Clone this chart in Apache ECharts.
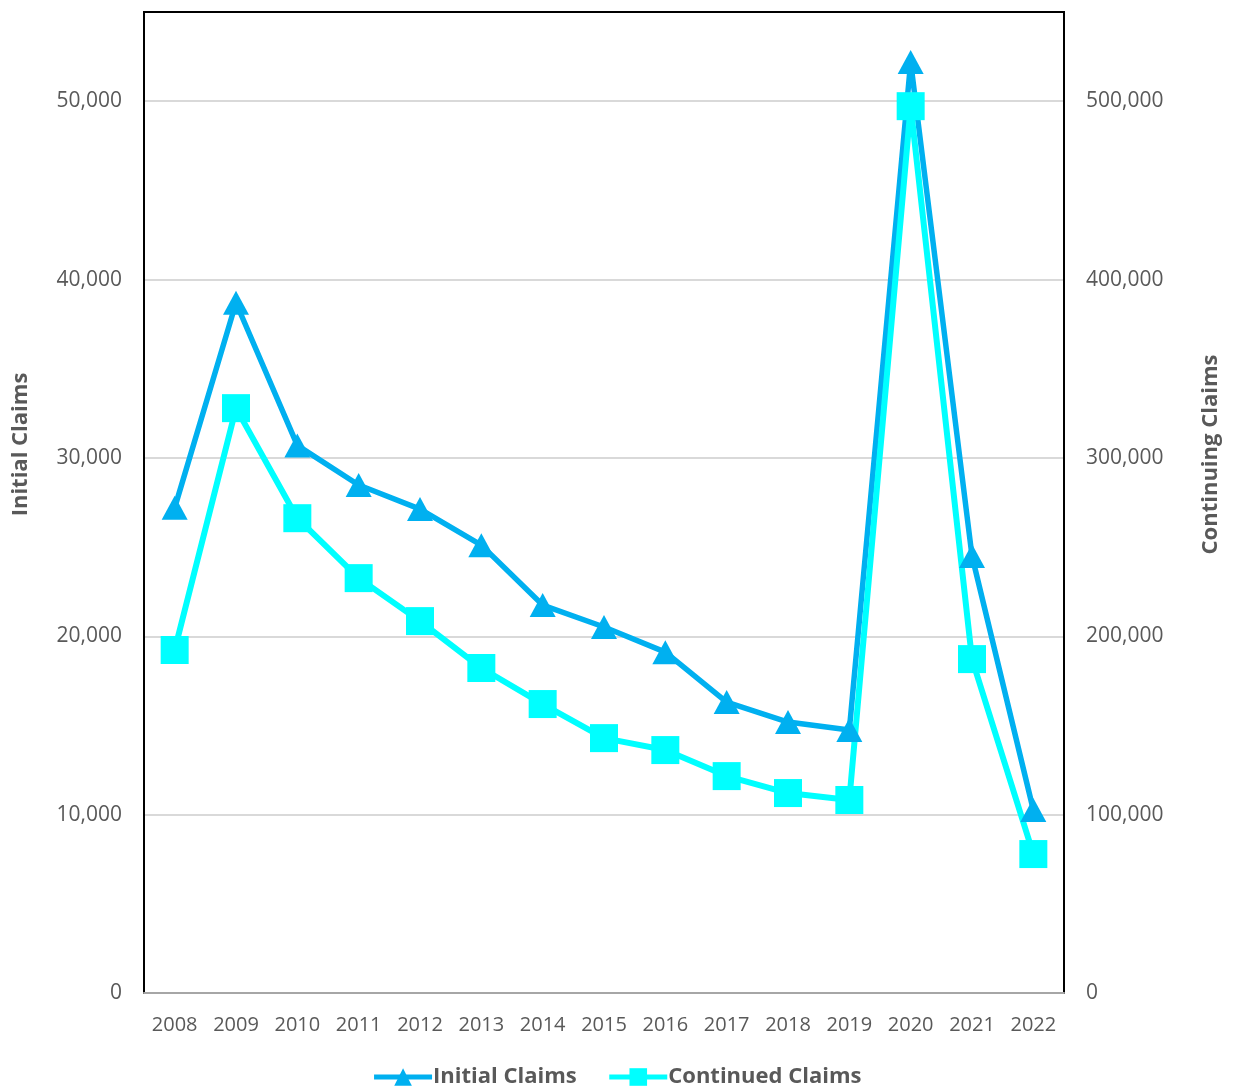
<!DOCTYPE html>
<html>
<head>
<meta charset="utf-8">
<script src="https://cdn.jsdelivr.net/npm/echarts@6/dist/echarts.min.js"></script>
<style>html,body{margin:0;padding:0;background:#fff}#c{width:1233px;height:1087px}</style>
</head>
<body>
<div id="c"></div>
<script>
const years = ['2008','2009','2010','2011','2012','2013','2014','2015','2016','2017','2018','2019','2020','2021','2022'];
const initialClaims = [27200, 38700, 30700, 28480, 27130, 25110, 21750, 20520, 19110, 16310, 15190, 14740, 52190, 24500, 10260];
const continuedClaims = [192300, 327900, 266200, 232600, 208500, 182200, 162000, 142900, 136200, 121600, 112100, 108200, 497200, 187200, 77900];
const leftTicks = [0, 10000, 20000, 30000, 40000, 50000];
const rightTicks = [0, 100000, 200000, 300000, 400000, 500000];

const txt = '#595959';
const fmt = (ticks) => (v) => ticks.includes(v) ? v.toLocaleString('en-US') : '';
const gridColors = ['#d9d9d9','#d9d9d9','#d9d9d9','#d9d9d9','#d9d9d9','#d9d9d9','rgba(0,0,0,0)'];
const chart = echarts.init(document.getElementById('c'));
chart.setOption({
  backgroundColor: '#fff',
  animation: false,
  textStyle: { fontFamily: 'Open Sans' },
  grid: { left: 144, right: 169, top: 12, bottom: 94, show: true, borderColor: '#000', borderWidth: 2 },
  legend: {
    top: 1061, left: 'center', itemGap: 30, itemWidth: 58, itemHeight: 22,
    lineStyle: { width: 5 },
    textStyle: { color: txt, fontSize: 22, fontWeight: 'bold', fontFamily: 'Open Sans', padding: [0, 0, 0, -4] },
    data: ['Initial Claims', 'Continued Claims']
  },
  xAxis: {
    type: 'category', data: years, boundaryGap: true,
    axisLine: { lineStyle: { color: '#a6a6a6', width: 2 } },
    axisTick: { show: false },
    axisLabel: { color: txt, fontSize: 20, margin: 22, interval: 0 }
  },
  yAxis: [{
    type: 'value', min: 0, max: 55000, interval: 10000, position: 'left',
    name: 'Initial Claims', nameLocation: 'middle', nameGap: 112, nameRotate: 90,
    nameTextStyle: { color: txt, fontSize: 22, fontWeight: 'bold', padding: [0, 0, 0, 116] },
    axisLine: { show: true, lineStyle: { color: '#000', width: 2 } },
    axisTick: { show: false },
    axisLabel: { color: txt, fontSize: 21, margin: 22, formatter: fmt(leftTicks) },
    splitLine: { show: true, lineStyle: { color: gridColors, width: 2 } }
  }, {
    type: 'value', min: 0, max: 550000, interval: 100000, position: 'right',
    name: 'Continuing Claims', nameLocation: 'middle', nameGap: 136, nameRotate: 90,
    nameTextStyle: { color: txt, fontSize: 22, fontWeight: 'bold', padding: [0, 0, 0, 96] },
    axisLine: { show: true, lineStyle: { color: '#000', width: 2 } },
    axisTick: { show: false },
    axisLabel: { color: txt, fontSize: 21, margin: 22, formatter: fmt(rightTicks) },
    splitLine: { show: false }
  }],
  series: [{
    name: 'Initial Claims', type: 'line', yAxisIndex: 0, data: initialClaims,
    symbol: 'triangle', symbolSize: [26, 24],
    lineStyle: { color: '#00B0F0', width: 5.5 },
    itemStyle: { color: '#00B0F0' }
  }, {
    name: 'Continued Claims', type: 'line', yAxisIndex: 1, data: continuedClaims,
    symbol: 'rect', symbolSize: 28,
    lineStyle: { color: '#00FFFF', width: 6 },
    itemStyle: { color: '#00FFFF' }
  }]
});
</script>
</body>
</html>
